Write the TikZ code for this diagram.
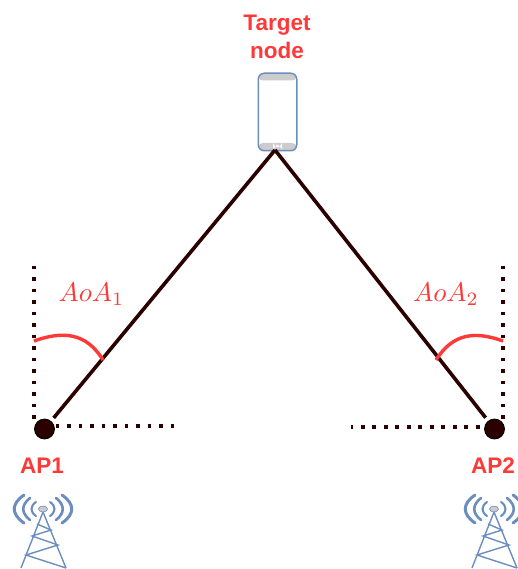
\documentclass[tikz,border=0pt]{standalone}
\usepackage{graphicx}
\usepackage{fontspec}
\setmainfont{Liberation Sans}
\definecolor{dark}{HTML}{2B0000}
\definecolor{redc}{HTML}{FF3838}
\definecolor{bluec}{HTML}{6C8EBF}
\definecolor{grayc}{HTML}{CCCCCC}
\tikzset{
  apdot/.style={circle,draw=black,line width=0.8pt,fill=dark,minimum size=20pt,inner sep=0pt},
  link/.style={draw=dark,line width=3.6pt,shorten >=4pt},
  guide/.style={draw=dark,line width=3.6pt,dash pattern=on 3.6pt off 7.9pt},
  anglearc/.style={draw=redc,line width=3.4pt},
  boldlabel/.style={text=redc,font=\fontsize{22.5}{28}\selectfont\bfseries,align=center,inner sep=0pt},
  mathlabel/.style={text=redc,inner sep=0pt},
  wave/.style={draw=bluec,line cap=round},
  mast/.style={draw=bluec,line width=1.4pt},
  tower/.pic={
    \draw[mast] (0,3) -- (-22,59) (0,3) -- (23,59);
    \draw[mast] (-6,15) -- (8,21) -- (-11,27) -- (15,36) -- (-17,46) -- (23,59);
    \draw[draw=bluec,fill=grayc,line width=0.6pt] (0,0) ellipse (4.5pt and 3pt);
    \foreach \s in {-1,1}{
      \draw[wave,line width=2.1pt] (\s*7,-7) .. controls (\s*13,-3) and (\s*13,3) .. (\s*7,7);
      \draw[wave,line width=2.6pt] (\s*13,-11) .. controls (\s*22,-4) and (\s*22,4) .. (\s*13,11);
      \draw[wave,line width=3pt] (\s*19,-14) .. controls (\s*32,-5) and (\s*32,5) .. (\s*19,14);
    }
  }
}
\begin{document}
\begin{tikzpicture}[x=1pt,y=-1pt]
\useasboundingbox (0,0) rectangle (518,569);
\clip (0,0) rectangle (518,569);
% phone
\node[draw=bluec,line width=1.5pt,rounded corners=6pt,minimum width=38.5pt,minimum height=77.5pt,inner sep=0pt,outer sep=0pt,
  preaction={path picture={
    \fill[grayc] (-20,-39) rectangle (20,-31.5);
    \fill[grayc] (-20,31) rectangle (20,39);
    \fill[white] (-4.5,33) rectangle (4.5,35.5);
  }}] (phone) at (277.5,112) {};
\node[boldlabel] (tlabel) at (277,37) {Target\\node};
\coordinate (apex) at (275,150);
% access points
\node[apdot] (ap1) at (44.5,429) {};
\node[apdot] (ap2) at (494.5,429) {};
\draw[link] (apex) -- (ap1);
\draw[link] (apex) -- (ap2);
% guides
\coordinate (g1a) at (34,265.5);
\coordinate (g1b) at (34,419);
\coordinate (g1c) at (55.5,426);
\coordinate (g1d) at (176,426);
\coordinate (g2a) at (503,265.5);
\coordinate (g2b) at (503,419);
\coordinate (g2c) at (479.5,427);
\coordinate (g2d) at (351,427);
\draw[guide] (g1a) -- (g1b);
\draw[guide] (g1c) -- (g1d);
\draw[guide] (g2a) -- (g2b);
\draw[guide] (g2c) -- (g2d);
% angle arcs
\coordinate (a1a) at (34,341);
\coordinate (a1b) at (103,360);
\coordinate (a2a) at (503,341);
\coordinate (a2b) at (436,360);
\draw[anglearc] (a1a) .. controls (62,331) and (86,332) .. (a1b);
\draw[anglearc] (a2a) .. controls (475,331) and (453,333) .. (a2b);
\node[mathlabel] (aoa1) at (91.5,294) {\scalebox{2.7}{$AoA_1$}};
\node[mathlabel] (aoa2) at (446,294) {\scalebox{2.7}{$AoA_2$}};
\node[boldlabel] (ap1l) at (42,466) {AP1};
\node[boldlabel] (ap2l) at (493,466) {AP2};
\pic at (43,509) {tower};
\pic at (494,509) {tower};
\end{tikzpicture}
\end{document}
